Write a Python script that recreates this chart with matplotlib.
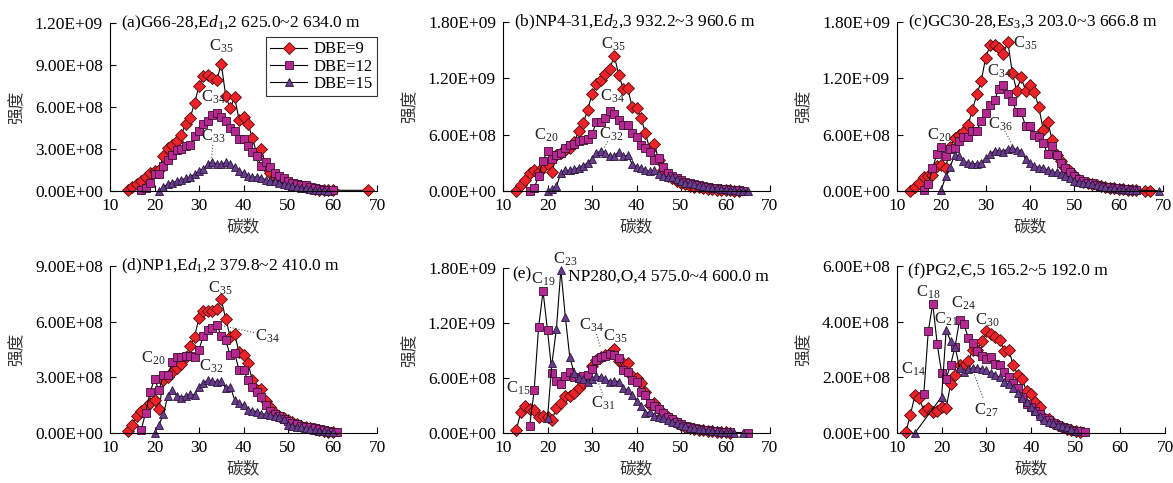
import matplotlib

matplotlib.use("Agg")

import matplotlib.pyplot as plt
from matplotlib.ticker import FuncFormatter, MultipleLocator

plt.rcParams["font.family"] = ["Liberation Serif", "Noto Sans CJK SC"]
plt.rcParams["mathtext.fontset"] = "custom"
plt.rcParams["mathtext.rm"] = "Liberation Serif"
plt.rcParams["mathtext.it"] = "Liberation Serif:italic"

SCALE = 1e8  # values below are in units of 1E+08

# ---- (a) G66-28 ----
a_c9 = list(range(14, 61)) + [68]
a_v9 = [0.10, 0.30, 0.50, 0.75, 1.00, 1.30,
        1.45, 1.50, 2.50, 3.10, 3.30, 3.60, 4.00, 4.80, 5.20, 6.30,
        7.50, 8.20, 8.30, 8.10, 7.90, 9.10, 6.80, 5.90, 6.70, 5.10,
        5.30, 4.80, 3.80, 2.60, 3.00, 1.70, 1.30, 1.00, 0.85, 0.70,
        0.55, 0.45, 0.40, 0.35, 0.30, 0.20, 0.15, 0.10, 0.08, 0.05,
        0.05, 0.05]
a_c12 = list(range(17, 61))
a_v12 = [0.05, 0.20, 0.55,
         1.20, 1.25, 1.80, 2.20, 2.60, 2.95, 3.00, 3.20, 3.30, 3.90,
         4.30, 4.80, 5.00, 5.40, 5.60, 5.30, 5.00, 4.50, 4.30, 3.70,
         3.70, 3.20, 2.80, 2.50, 1.80, 2.10, 1.70, 1.30, 1.10, 0.90,
         0.75, 0.60, 0.50, 0.45, 0.40, 0.30, 0.20, 0.15, 0.10, 0.08,
         0.10]
a_c15 = list(range(21, 60))
a_v15 = [0.00, 0.30, 0.50, 0.60, 0.70, 0.80, 0.90, 1.00, 1.20,
         1.40, 1.60, 1.90, 2.05, 1.95, 1.90, 2.05, 1.90, 1.70, 1.40,
         1.30, 1.10, 1.00, 1.00, 0.95, 0.80, 0.75, 0.70, 0.60, 0.50,
         0.40, 0.35, 0.30, 0.25, 0.20, 0.15, 0.10, 0.08, 0.05, 0.03]

# ---- (b) NP4-31 ----
b_c9 = list(range(13, 64))
b_v9 = [0.00, 0.60, 1.20, 1.90, 2.20, 2.00, 2.60,
        2.90, 2.00, 3.80, 4.10, 4.40, 4.60, 5.20, 6.40, 7.20, 8.60,
        10.3, 11.4, 11.8, 12.5, 13.0, 14.4, 12.4, 10.9, 11.0, 9.00,
        8.80, 7.80, 6.20, 4.40, 5.00, 3.30, 2.20, 1.60, 1.40, 1.10,
        0.90, 0.70, 0.55, 0.45, 0.40, 0.30, 0.25, 0.20, 0.15, 0.12,
        0.10, 0.08, 0.05, 0.05]
b_c12 = list(range(16, 65))
b_v12 = [0.00, 0.30, 1.60, 3.20,
         4.30, 3.40, 3.80, 4.00, 4.60, 4.90, 5.00, 5.30, 5.40, 5.50,
         6.10, 7.30, 7.40, 7.80, 8.50, 8.20, 7.60, 7.00, 7.00, 6.20,
         5.80, 4.90, 4.60, 4.20, 3.30, 3.50, 2.60, 1.90, 1.60, 1.40,
         1.20, 1.00, 0.80, 0.70, 0.60, 0.50, 0.40, 0.35, 0.30, 0.25,
         0.20, 0.15, 0.10, 0.08, 0.05]
b_c15 = list(range(20, 66))
b_v15 = [0.00, 0.20, 0.50, 1.90, 2.20, 2.20, 2.30, 2.50, 2.70, 3.00,
         3.40, 4.00, 4.30, 4.00, 3.70, 3.70, 4.20, 3.70, 3.80, 2.90,
         2.60, 2.40, 2.20, 2.10, 2.20, 1.80, 1.60, 1.50, 1.50, 1.30,
         1.10, 0.90, 0.80, 0.70, 0.60, 0.50, 0.40, 0.35, 0.30, 0.25,
         0.20, 0.15, 0.10, 0.05, 0.05, 0.03]

# ---- (c) GC30-28 ----
c_c9 = list(range(13, 65)) + [66, 67]
c_v9 = [0.05, 0.40, 0.85, 1.50, 1.65, 1.75, 2.70,
        2.80, 2.50, 4.70, 5.60, 6.00, 6.30, 7.00, 8.60, 10.3, 11.7,
        14.2, 15.5, 15.6, 15.2, 14.6, 15.9, 12.6, 10.7, 12.1, 10.7,
        11.3, 10.5, 8.90, 6.50, 7.40, 5.40, 3.80, 3.20, 2.50, 2.10,
        1.60, 1.20, 1.00, 0.80, 0.70, 0.60, 0.50, 0.40, 0.35, 0.30,
        0.25, 0.20, 0.15, 0.10, 0.08,
        0.05, 0.05]
c_c12 = list(range(16, 65))
c_v12 = [0.15, 0.70, 2.40, 3.90,
         4.70, 3.70, 4.50, 4.60, 5.30, 5.80, 5.80, 6.40, 6.40, 7.50,
         8.30, 9.20, 9.70, 10.9, 11.3, 10.3, 9.60, 8.40, 8.40, 6.90,
         6.90, 6.00, 5.80, 5.10, 3.90, 4.80, 3.80, 3.00, 2.50, 2.00,
         1.60, 1.30, 1.10, 0.90, 0.80, 0.60, 0.50, 0.45, 0.40, 0.35,
         0.30, 0.25, 0.20, 0.15, 0.10]
c_c15 = list(range(20, 65)) + [69]
c_v15 = [0.10, 1.60, 2.60, 3.80, 3.70, 3.20, 3.00, 2.90, 2.90, 3.00,
         3.50, 3.90, 4.30, 4.30, 4.20, 4.50, 4.60, 4.40, 4.20, 3.40,
         3.00, 2.70, 2.50, 2.50, 2.20, 2.00, 2.00, 1.80, 1.60, 1.40,
         1.10, 1.00, 0.90, 0.80, 0.70, 0.60, 0.50, 0.40, 0.35, 0.30,
         0.25, 0.20, 0.15, 0.10, 0.08,
         0.03]

# ---- (d) NP1 ----
d_c9 = list(range(14, 61))
d_v9 = [0.10, 0.45, 0.90, 1.20, 1.40, 1.60,
        1.80, 1.30, 2.85, 3.00, 3.30, 3.50, 3.70, 4.10, 4.70, 5.20,
        6.20, 6.55, 6.55, 6.60, 6.70, 7.20, 6.15, 5.20, 5.35, 4.35,
        4.20, 3.75, 2.85, 2.30, 2.35, 1.70, 1.40, 1.10, 0.90, 0.80,
        0.70, 0.60, 0.50, 0.40, 0.30, 0.25, 0.20, 0.15, 0.10, 0.07,
        0.05]
d_c12 = list(range(17, 62))
d_v12 = [0.15, 1.10, 2.20,
         2.90, 2.30, 3.10, 3.10, 3.85, 4.10, 4.10, 4.15, 4.15, 4.10,
         4.50, 5.25, 5.55, 5.65, 5.80, 5.25, 5.00, 4.20, 4.30, 3.40,
         3.40, 2.85, 2.50, 2.20, 1.95, 1.50, 1.20, 1.05, 0.90, 0.75,
         0.65, 0.55, 0.50, 0.40, 0.35, 0.30, 0.25, 0.20, 0.15, 0.10,
         0.07, 0.05]
d_c15 = list(range(20, 61))
d_v15 = [0.00, 0.45, 1.00, 2.00, 2.30, 2.00, 1.90, 2.00, 2.10, 2.05,
         2.50, 2.70, 2.85, 2.80, 2.75, 2.80, 2.40, 2.50, 1.80, 1.60,
         1.50, 1.25, 1.20, 1.15, 1.05, 1.00, 0.95, 0.90, 0.85, 0.75,
         0.45, 0.40, 0.35, 0.30, 0.25, 0.20, 0.15, 0.12, 0.10, 0.07,
         0.05]

# ---- (e) NP280 ----
e_c9 = list(range(13, 62))
e_v9 = [0.35, 2.25, 3.00, 2.60, 2.50, 1.75, 1.90,
        1.75, 1.45, 2.70, 3.30, 4.00, 4.00, 4.35, 4.90, 5.45, 5.90,
        7.30, 8.00, 8.30, 8.50, 8.70, 9.20, 7.90, 7.60, 7.60, 6.25,
        6.00, 5.45, 4.45, 3.10, 3.30, 2.60, 2.00, 1.70, 1.40, 1.10,
        0.90, 0.70, 0.55, 0.45, 0.35, 0.30, 0.25, 0.20, 0.15, 0.10,
        0.08, 0.05]
e_c12 = list(range(16, 62)) + [65]
e_v12 = [0.80, 4.65, 11.55, 15.45,
         11.2, 6.55, 5.65, 5.40, 6.25, 6.70, 6.10, 6.00, 6.20, 6.35,
         7.00, 8.00, 8.30, 8.40, 8.60, 8.50, 8.20, 6.85, 6.70, 5.75,
         5.60, 4.50, 4.10, 3.30, 2.90, 2.60, 2.20, 1.80, 1.50, 1.20,
         1.00, 0.80, 0.65, 0.55, 0.45, 0.35, 0.30, 0.25, 0.20, 0.15,
         0.10, 0.08,
         0.03]
e_c15 = list(range(20, 63)) + [64]
e_v15 = [1.65, 7.60, 11.35, 17.8, 12.7, 8.30, 6.50, 6.00, 5.90, 5.60,
         5.90, 6.20, 6.10, 5.90, 5.60, 5.70, 5.60, 4.90, 4.70, 4.10,
         3.50, 3.00, 2.20, 2.30, 1.90, 1.80, 1.60, 1.40, 1.20, 1.10,
         0.90, 0.75, 0.60, 0.50, 0.40, 0.35, 0.30, 0.25, 0.20, 0.15,
         0.10, 0.07, 0.05,
         0.02]

# ---- (f) PG2 ----
f_c9 = list(range(12, 52))
f_v9 = [0.05, 0.65, 1.35, 1.25, 0.80, 0.90, 0.75, 0.80,
        0.95, 0.90, 1.75, 2.10, 2.45, 2.40, 2.60, 3.00, 3.00, 3.30,
        3.65, 3.55, 3.45, 3.35, 2.95, 3.00, 2.45, 2.10, 1.95, 1.50,
        1.40, 1.10, 0.95, 0.55, 0.50, 0.35, 0.30, 0.22, 0.15, 0.10,
        0.06, 0.03]
f_c12 = list(range(16, 53))
f_v12 = [1.40, 3.65, 4.65, 3.20,
         2.15, 1.95, 2.45, 3.10, 4.05, 3.90, 3.40, 3.25, 2.95, 2.78,
         2.66, 2.72, 2.48, 2.46, 2.18, 2.00, 1.80, 1.60, 1.30, 1.05,
         0.93, 0.80, 0.70, 0.55, 0.45, 0.35, 0.28, 0.22, 0.17, 0.12,
         0.08, 0.06, 0.05]
f_c15 = [14] + list(range(20, 51))
f_v15 = [0.00,
         1.30, 3.70, 3.30, 3.10, 2.35, 2.20, 2.30, 2.35, 2.35, 2.30,
         2.25, 2.15, 2.10, 2.00, 1.85, 1.75, 1.60, 1.45, 1.25, 1.10,
         0.95, 0.80, 0.60, 0.45, 0.40, 0.35, 0.30, 0.25, 0.20, 0.15,
         0.08]

TITLES = [
    r"(a)G66-28,E$\mathit{d}_{1}$,2 625.0~2 634.0 m",
    r"(b)NP4-31,E$\mathit{d}_{2}$,3 932.2~3 960.6 m",
    r"(c)GC30-28,E$\mathit{s}_{3}$,3 203.0~3 666.8 m",
    r"(d)NP1,E$\mathit{d}_{1}$,2 379.8~2 410.0 m",
    "(e)",
    "(f)PG2,Є,5 165.2~5 192.0 m",
]
YMAX = [12, 18, 18, 9, 18, 6]
YSTEP = [3, 6, 6, 3, 6, 2]

# label text, label position (carbon, 1E+08), optional dotted leader
LABELS = [
    [("35", 35, 10.3, None), ("34", 33.2, 6.7, None),
     ("33", 33.3, 3.9, ((33.1, 3.3), (32.8, 2.3)))],
    [("35", 34.8, 15.6, None), ("34", 34.5, 10.1, None), ("20", 19.6, 5.9, None),
     ("32", 34.3, 6.0, ((33.5, 5.3), (32.6, 4.5)))],
    [("35", 39.0, 15.7, None), ("34", 33.0, 12.7, None), ("20", 19.5, 5.9, None),
     ("36", 33.4, 7.1, ((34.3, 6.4), (36.3, 4.7)))],
    [("35", 34.8, 7.8, None), ("20", 19.7, 4.0, None), ("32", 32.8, 3.6, None),
     ("34", 45.3, 5.2, ((35.0, 5.8), (42.5, 5.4)))],
    [("23", 23.9, 18.9, None), ("19", 19.0, 16.8, None), ("15", 13.4, 4.9, None),
     ("35", 35.2, 10.6, None),
     ("34", 29.9, 11.7, ((31.0, 10.8), (31.9, 9.3))),
     ("31", 32.6, 3.2, ((31.3, 5.7), (32.5, 4.1)))],
    [("18", 17.0, 5.05, None), ("21", 20.9, 4.1, None), ("24", 24.8, 4.65, None),
     ("30", 30.2, 4.05, None), ("14", 13.6, 2.3, None),
     ("27", 29.9, 0.8, ((27.3, 2.1), (29.3, 1.25)))],
]

PANELS = [
    (a_c9, a_v9, a_c12, a_v12, a_c15, a_v15),
    (b_c9, b_v9, b_c12, b_v12, b_c15, b_v15),
    (c_c9, c_v9, c_c12, c_v12, c_c15, c_v15),
    (d_c9, d_v9, d_c12, d_v12, d_c15, d_v15),
    (e_c9, e_v9, e_c12, e_v12, e_c15, e_v15),
    (f_c9, f_v9, f_c12, f_v12, f_c15, f_v15),
]

# axes boxes in pixels: left, right, top, bottom
BOXES = [
    (110, 377, 23, 191), (503, 770, 22, 191), (897, 1163, 22, 191),
    (110, 377, 266, 433), (503, 770, 268, 433), (897, 1165, 266, 433),
]

STYLES = [
    dict(marker="D", ms=6.0, mfc="#ee2229", mec="#4a1010", label="DBE=9"),
    dict(marker="s", ms=6.0, mfc="#b52891", mec="#3a1030", label="DBE=12"),
    dict(marker="^", ms=6.0, mfc="#6a3c90", mec="#2a1838", label="DBE=15"),
]

W, H = 1173, 483
fig = plt.figure(figsize=(W / 100, H / 100), dpi=100)

for i, (data, box) in enumerate(zip(PANELS, BOXES)):
    l, r, t, b = box
    ax = fig.add_axes([l / W, 1 - b / H, (r - l) / W, (b - t) / H])
    for k, style in enumerate(STYLES):
        xs = data[2 * k]
        ys = [v * SCALE for v in data[2 * k + 1]]
        ax.plot(xs, ys, color="black", lw=0.8, mew=0.6, clip_on=False, **style)

    ax.set_xlim(10, 70)
    ax.set_ylim(0, YMAX[i] * SCALE)
    ax.xaxis.set_major_locator(MultipleLocator(10))
    ax.yaxis.set_major_locator(MultipleLocator(YSTEP[i] * SCALE))
    ax.yaxis.set_major_formatter(FuncFormatter(lambda v, p: f"{v:.2E}"))
    for side in ("top", "right"):
        ax.spines[side].set_visible(False)
    ax.tick_params(direction="in", length=4, width=0.8, labelsize=12.5, pad=5)
    ax.set_xlabel("碳数", family="Noto Sans CJK SC", fontsize=12, labelpad=3,
                  color="#333333")
    ax.set_ylabel("强度", family="Noto Sans CJK SC", fontsize=12, labelpad=7,
                  color="#333333")

    if i == 4:
        ax.text(0.035, 0.96, "(e)", transform=ax.transAxes, fontsize=12.5,
                va="center", ha="left")
        ax.text(0.245, 0.945, "NP280,O,4 575.0~4 600.0 m", transform=ax.transAxes,
                fontsize=12.5, va="center", ha="left")
    else:
        ytop = 0.965 if i == 5 else 1.0
        ax.text(0.04, ytop, TITLES[i], transform=ax.transAxes, fontsize=12.5,
                va="center", ha="left")

    for txt, lx, ly, leader in LABELS[i]:
        ax.text(lx, ly * SCALE, r"$\mathrm{C}_{" + txt + "}$", fontsize=12,
                ha="center", va="center", color="#222222")
        if leader is not None:
            (x0, y0), (x1, y1) = leader
            ax.plot([x0, x1], [y0 * SCALE, y1 * SCALE], ls=":", lw=0.8,
                    color="#555555")

    if i == 0:
        leg = ax.legend(loc="upper right", bbox_to_anchor=(1.0, 0.915),
                        fontsize=12, frameon=True, fancybox=False,
                        edgecolor="black", borderaxespad=0, handlelength=2.2,
                        borderpad=0.25, labelspacing=0.08, handletextpad=0.4)
        leg.get_frame().set_linewidth(0.8)

fig.savefig("out.png", dpi=100)
